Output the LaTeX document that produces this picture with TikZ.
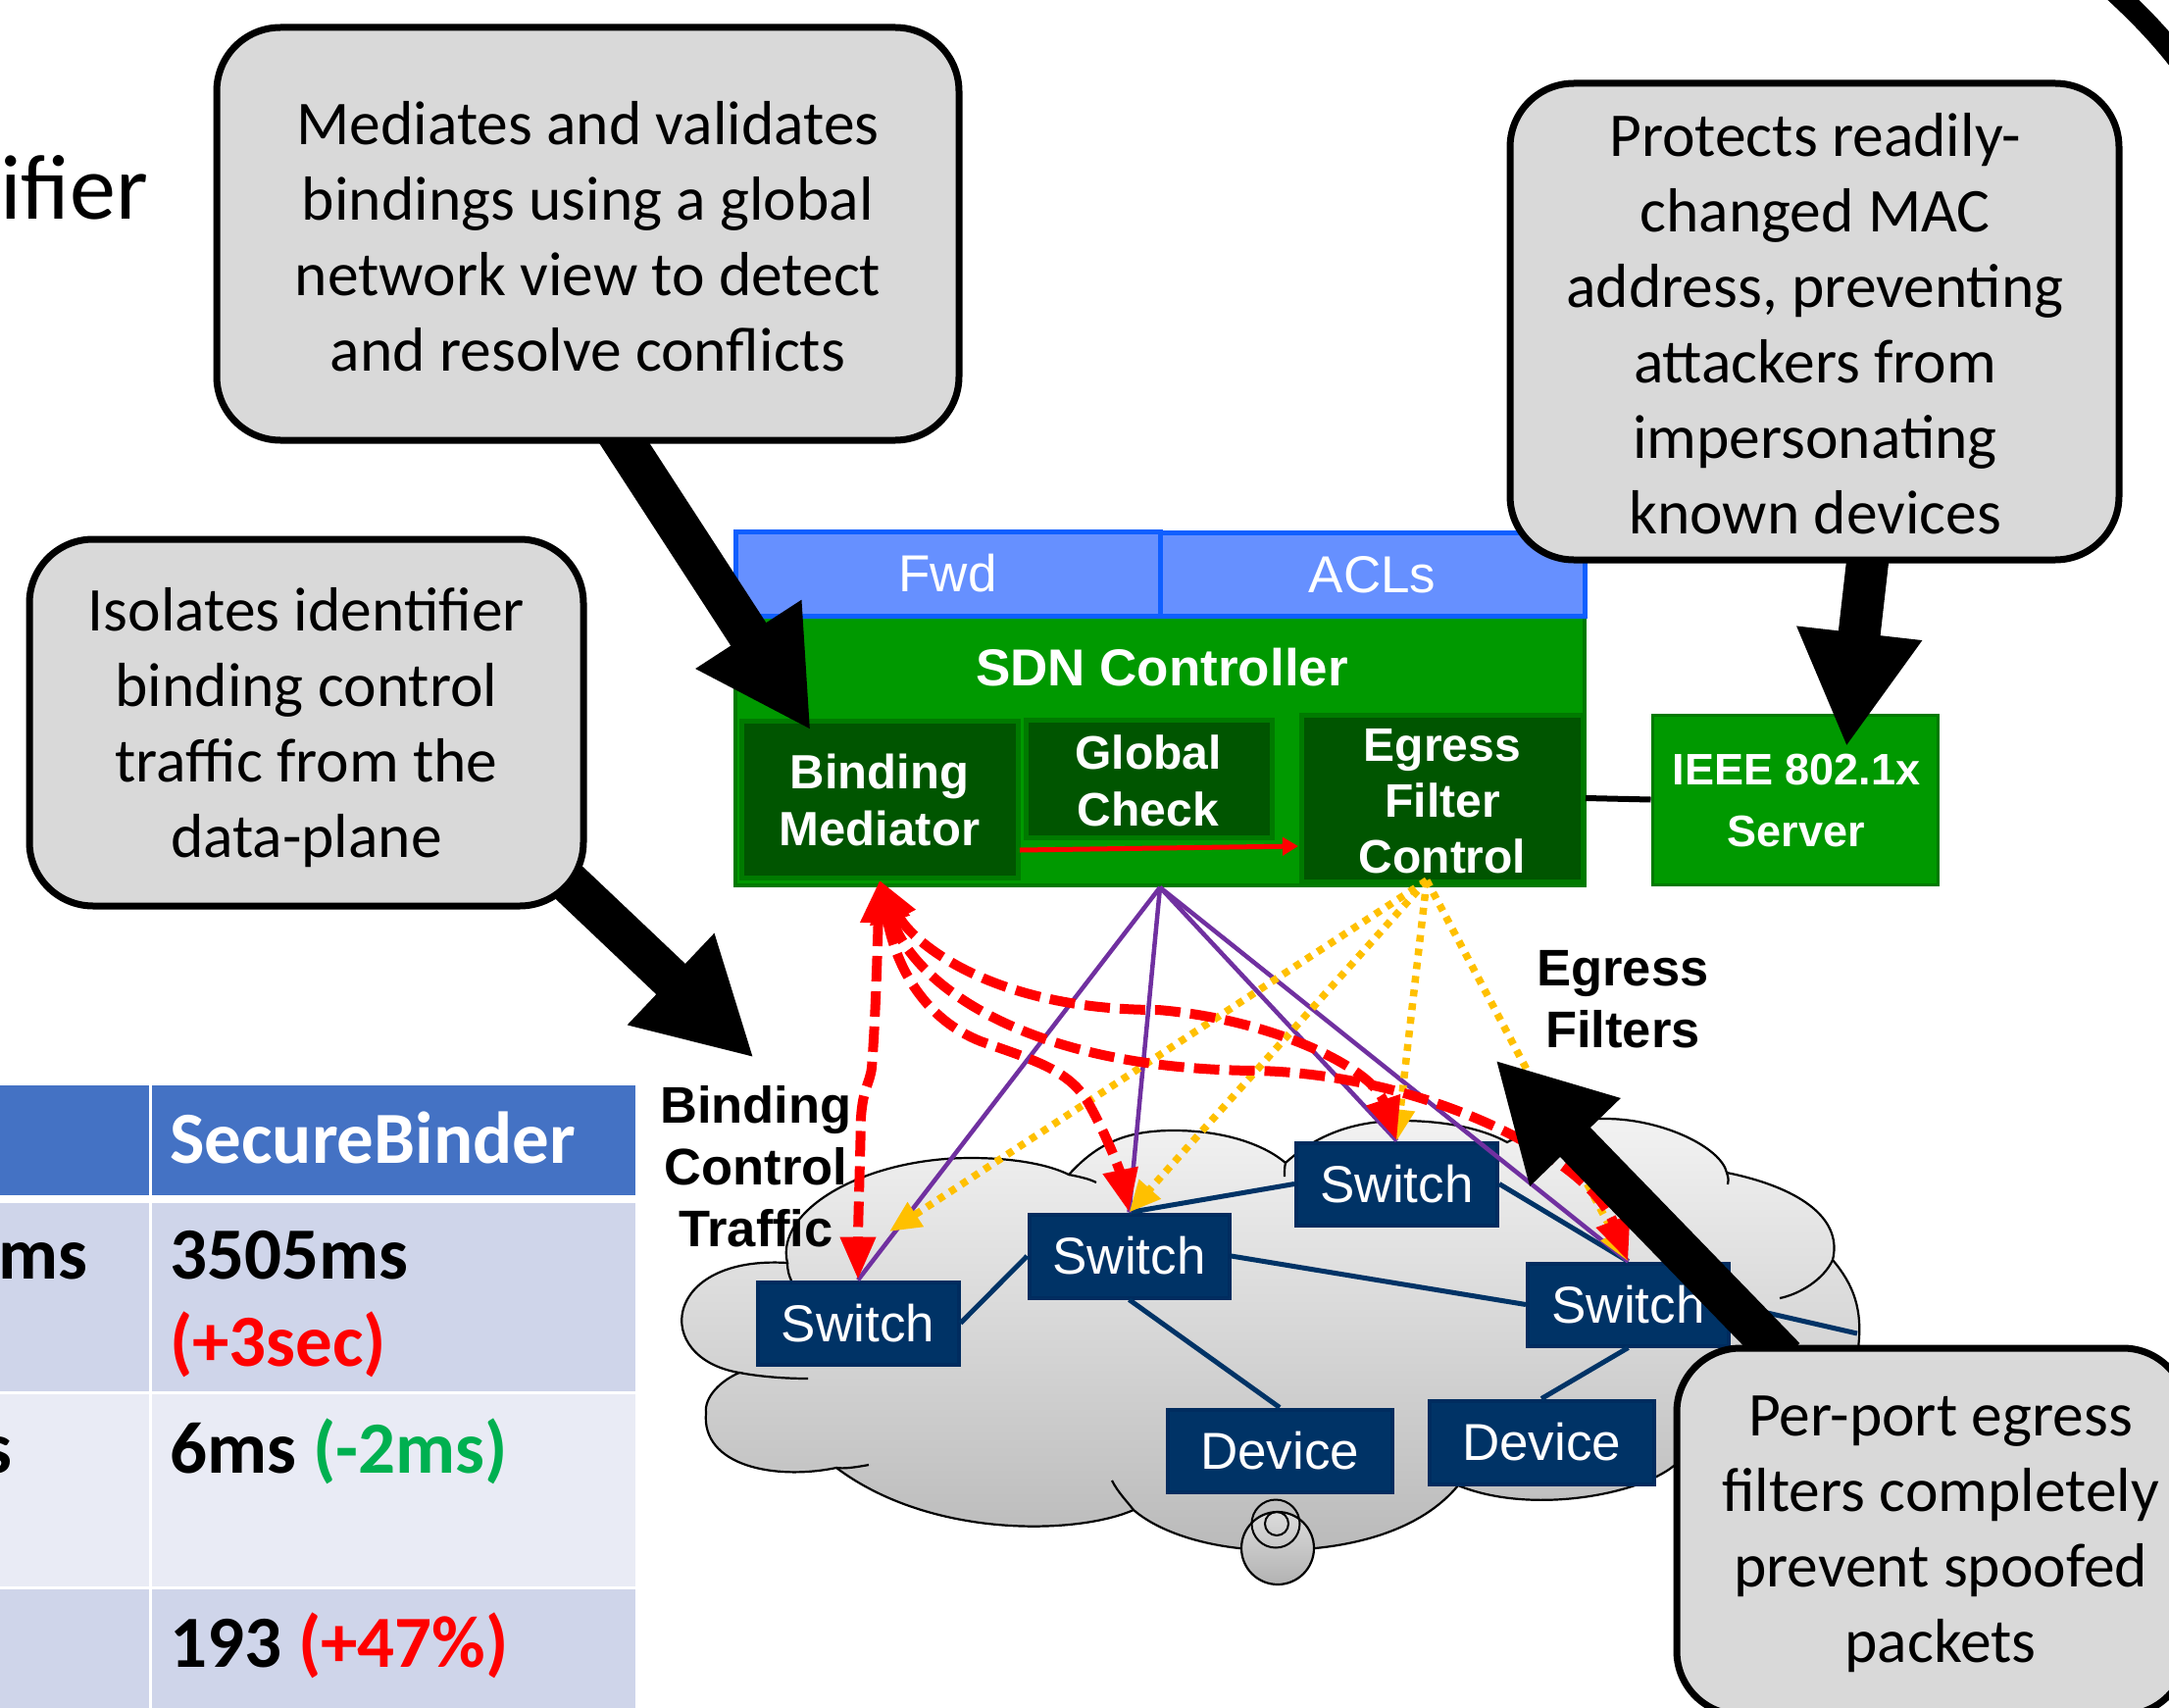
\documentclass[tikz,border=0pt]{standalone}
\usepackage{fontspec}
\usetikzlibrary{arrows.meta,calc}
\newfontfamily\carl{Carlito}
\newfontfamily\ari{Liberation Sans}
\definecolor{callfill}{HTML}{D9D9D9}
\definecolor{netblue}{HTML}{003366}
\definecolor{netedge}{HTML}{002C5F}
\definecolor{sdngreen}{HTML}{009900}
\definecolor{sdnedge}{HTML}{007A00}
\definecolor{dkgreen}{HTML}{005500}
\definecolor{bluefill}{HTML}{6690FF}
\definecolor{blueedge}{HTML}{0F5FFF}
\definecolor{hdrblue}{HTML}{4472C4}
\definecolor{rowa}{HTML}{CFD5EA}
\definecolor{rowb}{HTML}{E9EBF5}
\definecolor{purp}{HTML}{7030A0}
\definecolor{orng}{HTML}{FFC000}
\definecolor{grn}{HTML}{00B050}
\tikzset{
 callout/.style={draw=black,fill=callfill,line width=7pt,rounded corners=65pt,inner sep=0pt},
 calltext/.style={inner sep=0pt,align=center,text=black,font=\carl\fontsize{63.5}{77}\selectfont},
 netbox/.style={draw=netedge,fill=netblue,line width=4pt,inner sep=0pt,text=white,font=\ari\fontsize{53}{60}\selectfont},
 netline/.style={draw=netblue,line width=5pt},
 bluebox/.style={draw=blueedge,fill=bluefill,line width=5pt,inner sep=0pt,text=white,font=\ari\fontsize{53}{60}\selectfont},
 dkbox/.style={draw=sdnedge,fill=dkgreen,line width=5pt,inner sep=0pt},
 wlabel/.style={text=white,inner sep=0pt,align=center,font=\ari\bfseries\fontsize{50}{58}\selectfont},
 blabel/.style={text=black,inner sep=0pt,align=center,font=\ari\bfseries\fontsize{52.5}{63}\selectfont},
 purpline/.style={draw=purp,line width=4.5pt},
 dotline/.style={draw=orng,line width=7.5pt,dash pattern=on 7pt off 7pt,-{Triangle[length=32pt,width=28pt]}},
 redline/.style={draw=red,line width=10pt,dash pattern=on 26pt off 10pt,{Triangle[length=44pt,width=34pt]}-{Triangle[length=44pt,width=34pt]}},
 bigarrow/.style={draw=black,line width=43pt,-{Triangle[length=117pt,width=120pt]}},
 cloudshape/.style={draw=black,line width=2.2pt,top color=black!5,bottom color=black!27,shading angle=0},
 ttext/.style={inner sep=0pt,anchor=base west,font=\carl\bfseries\fontsize{75}{80}\selectfont},
}
\begin{document}
\begin{tikzpicture}[x=1pt,y=-1pt]
\useasboundingbox (0,0) rectangle (2212,1742);
\clip (0,0) rectangle (2212,1742);
\fill[white] (0,0) rectangle (2212,1742);

% partial title and curve at the edges
\node[inner sep=0pt,anchor=base west,font=\carl\fontsize{94}{100}\selectfont] (title) at (0,223) {ifier};
\coordinate (arcA) at (2146,-18);
\coordinate (arcB) at (2224,64);
\draw[line width=22pt] (arcA) .. controls (2175,8) and (2200,33) .. (arcB);

% table
\fill[hdrblue] (0,1107) rectangle (152,1219);
\fill[hdrblue] (155,1107) rectangle (648,1219);
\fill[rowa] (0,1227) rectangle (152,1419);
\fill[rowa] (155,1227) rectangle (648,1419);
\fill[rowb] (0,1422) rectangle (152,1618);
\fill[rowb] (155,1422) rectangle (648,1618);
\fill[rowa] (0,1621) rectangle (152,1742);
\fill[rowa] (155,1621) rectangle (648,1742);
\node[ttext,text=white] (th) at (173,1186) {SecureBinder};
\node[ttext,anchor=base east] (t1l) at (90,1304) {ms};
\node[ttext] (t1a) at (173,1304) {3505ms};
\node[ttext,text=red] (t1b) at (173,1393) {(+3sec)};
\node[ttext,anchor=base east] (t2l) at (13,1502) {s};
\node[ttext] (t2a) at (173,1502) {6ms \textcolor{grn}{(-2ms)}};
\node[ttext] (t3a) at (173,1700) {193 \textcolor{red}{(+47\%)}};

% cloud
\path[cloudshape] (754,1400)
  .. controls (664,1385) and (675,1280) .. (803,1288)
  .. controls (790,1235) and (880,1181) .. (990,1181)
  .. controls (1035,1181) and (1070,1188) .. (1090,1198)
  .. controls (1120,1165) and (1150,1153) .. (1197,1153)
  .. controls (1250,1153) and (1290,1168) .. (1311,1186)
  .. controls (1345,1155) and (1385,1143) .. (1429,1143)
  .. controls (1470,1143) and (1510,1150) .. (1537,1165)
  .. controls (1565,1150) and (1600,1141) .. (1637,1141)
  .. controls (1695,1141) and (1755,1170) .. (1761,1196)
  .. controls (1830,1210) and (1880,1240) .. (1869,1285)
  .. controls (1890,1310) and (1900,1335) .. (1895,1375)
  .. controls (1890,1420) and (1820,1480) .. (1707,1495)
  .. controls (1670,1525) and (1560,1545) .. (1487,1515)
  .. controls (1450,1560) and (1380,1581) .. (1300,1581)
  .. controls (1240,1581) and (1185,1565) .. (1156,1540)
  .. controls (1100,1565) and (950,1570) .. (853,1497)
  .. controls (790,1510) and (715,1495) .. (720,1441)
  .. controls (718,1425) and (735,1408) .. (754,1400)
  -- cycle;
\draw[line width=2.2pt] (754,1400) .. controls (775,1404) and (800,1406) .. (824,1406);
\draw[line width=2.2pt] (803,1288) .. controls (803,1296) and (805,1302) .. (807,1306);
\draw[line width=2.2pt] (1090,1198) .. controls (1100,1200) and (1110,1202) .. (1118,1206);
\draw[line width=2.2pt] (1311,1186) .. controls (1310,1190) and (1310,1194) .. (1310,1200);
\draw[line width=2.2pt] (1761,1196) .. controls (1763,1202) and (1763,1205) .. (1762,1208);
\draw[line width=2.2pt] (1869,1285) .. controls (1860,1305) and (1835,1320) .. (1815,1324);
\draw[line width=2.2pt] (853,1497) .. controls (860,1498) and (870,1497) .. (886,1494);
\draw[line width=2.2pt] (1156,1540) .. controls (1150,1532) and (1140,1522) .. (1134,1510);
\shade[draw=black,line width=2.2pt,top color=black!14,bottom color=black!30] (1303,1579) circle (37);
\draw[line width=2pt] (1301,1554) circle (24.5);
\draw[line width=2pt] (1302,1554) circle (12);

% network boxes
\node[netbox,minimum width=205pt,minimum height=84pt] (s1) at (875,1349.5) {Switch};
\node[netbox,minimum width=204pt,minimum height=85pt] (s2) at (1151.5,1281) {Switch};
\node[netbox,minimum width=205pt,minimum height=84pt] (s3) at (1424.5,1207.5) {Switch};
\node[netbox,minimum width=205pt,minimum height=84pt] (s4) at (1660.5,1330.5) {Switch};
\node[netbox,minimum width=229pt,minimum height=84pt] (d1) at (1305,1479.5) {Device};
\node[netbox,minimum width=229pt,minimum height=85pt] (d2) at (1572,1471) {Device};
\coordinate (edgeR) at (1894,1360);
\draw[netline] (s1.east) -- (s2.west);
\draw[netline] (s2.north) -- (s3.west);
\draw[netline] (s2.east) -- (s4.west);
\draw[netline] (s2.south) -- (d1.north);
\draw[netline] (s3.east) -- (s4.north);
\draw[netline] (s4.south) -- (d2.north);
\draw[netline] (s4.east) -- (edgeR);

% controller
\node[draw=sdnedge,fill=sdngreen,line width=4pt,minimum width=866pt,minimum height=275pt,inner sep=0pt] (sdn) at (1183,765.5) {};
\node[bluebox,minimum width=433pt,minimum height=86pt] (fwd) at (966.5,585) {Fwd};
\node[bluebox,minimum width=433pt,minimum height=85pt] (acl) at (1399.5,586) {ACLs};
\node[wlabel,font=\ari\bfseries\fontsize{53}{60}\selectfont] (sdnl) at (1185,681) {SDN Controller};
\node[dkbox,minimum width=282pt,minimum height=160pt] (bm) at (897,815) {};
\node[dkbox,minimum width=251pt,minimum height=120pt] (gc) at (1171.5,794) {};
\node[dkbox,minimum width=287pt,minimum height=170pt] (eg) at (1471,814) {};
\node[wlabel,font=\ari\bfseries\fontsize{49}{58}\selectfont] (bml) at (897,816) {Binding\\Mediator};
\node[wlabel,font=\ari\bfseries\fontsize{48}{58}\selectfont] (gcl) at (1171,796) {Global\\Check};
\node[wlabel,font=\ari\bfseries\fontsize{48}{57}\selectfont] (egl) at (1471,817) {Egress\\Filter\\Control};
\coordinate (ra) at (1040,867);
\coordinate (rb) at (1324,863);
\draw[draw=red,line width=5pt,-{Triangle[length=16pt,width=18pt]}] (ra) -- (rb);
\node[draw=sdnedge,fill=sdngreen,line width=3pt,minimum width=291pt,minimum height=173pt,inner sep=0pt] (ieee) at (1830.5,815.5) {};
\node[wlabel,font=\ari\bfseries\fontsize{45}{63}\selectfont] (ieeel) at (1832,817) {IEEE 802.1x\\Server};
\draw[line width=6pt] (eg.east) -- (ieee.west);

% labels
\node[blabel] (bct) at (771,1190) {Binding\\Control\\Traffic};
\node[blabel] (ef) at (1655,1019) {Egress\\Filters};

% purple links
\draw[purpline] (sdn.south) -- (s1.north);
\draw[purpline] (sdn.south) -- (s2.north);
\draw[purpline] (sdn.south) -- (s3.north);
\draw[purpline] (sdn.south) -- (s4.north);

% orange dotted links
\coordinate (og) at (1455,898);
\coordinate (os1) at (907,1256);
\draw[dotline] (og) -- (os1);
\draw[dotline] (og) -- (s2.north);
\draw[dotline] (og) -- (s3.north);
\draw[dotline] (og) -- (s4.north);

% red dashed links
\draw[redline] (bm.south) .. controls (895,960) and (893,1040) .. (889,1089)
   .. controls (887,1105) and (880,1110) .. (878,1140) .. controls (877,1190) and (875,1250) .. (s1.north);
\draw[redline] (bm.south) .. controls (915,990) and (945,1040) .. (1000,1062)
   .. controls (1050,1080) and (1090,1090) .. (1110,1125) .. controls (1135,1170) and (1145,1205) .. (s2.north);
\draw[redline] (bm.south) .. controls (930,960) and (1010,1030) .. (1181,1030)
   .. controls (1300,1040) and (1400,1090) .. (s3.north);
\draw[redline] (bm.south) .. controls (930,1000) and (1040,1090) .. (1280,1092)
   .. controls (1450,1095) and (1620,1180) .. (s4.north);

% big black arrows
\coordinate (a1s) at (629,440);
\coordinate (a1e) at (827,745);
\coordinate (a2s) at (1906,560);
\coordinate (a2e) at (1883,762);
\coordinate (a3s) at (578,898);
\coordinate (a3e) at (769,1079);
\coordinate (a4s) at (1820,1385);
\coordinate (a4e) at (1525,1081);
\draw[bigarrow] (a1s) -- (a1e);
\draw[bigarrow] (a2s) -- (a2e);
\draw[bigarrow] (a3s) -- (a3e);
\draw[bigarrow] (a4s) -- (a4e);

% callouts
\node[callout,minimum width=757pt,minimum height=421pt] (c1) at (599.5,238.5) {};
\node[calltext] (c1t) at (599.5,241) {Mediates and validates\\bindings using a global\\network view to detect\\and resolve conflicts};
\node[callout,minimum width=621pt,minimum height=486pt] (c2) at (1850.5,328) {};
\node[calltext] (c2t) at (1851,330) {Protects readily-\\changed MAC\\address, preventing\\attackers from\\impersonating\\known devices};
\node[callout,minimum width=565pt,minimum height=374pt] (c3) at (312.5,737) {};
\node[calltext] (c3t) at (312.5,742) {Isolates identifier\\binding control\\traffic from the\\data-plane};
\node[callout,minimum width=520pt,minimum height=374pt] (c4) at (1970,1562) {};
\node[calltext] (c4t) at (1979,1565) {Per-port egress\\filters completely\\prevent spoofed\\packets};
\end{tikzpicture}
\end{document}
